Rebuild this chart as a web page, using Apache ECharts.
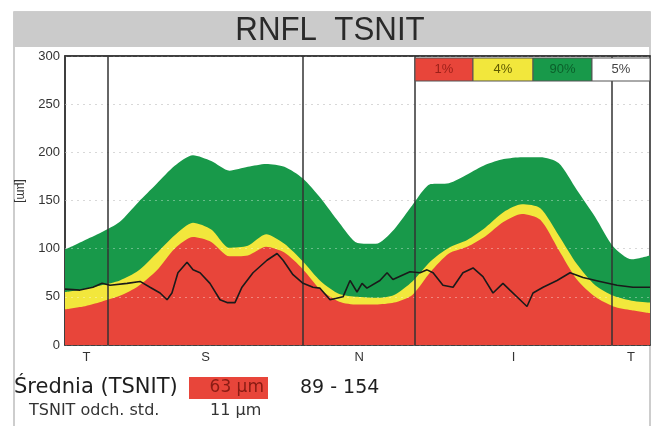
<!DOCTYPE html>
<html>
<head>
<meta charset="utf-8">
<script src="https://cdn.jsdelivr.net/npm/echarts@6/dist/echarts.min.js"></script>
<style>
html,body{margin:0;padding:0;background:#fff;}
#c{width:658px;height:426px;}
</style>
</head>
<body>
<div id="c"></div>
<script>
// ---- data ----
const titleText = 'RNFL  TSNIT';
const yTicks = [0, 50, 100, 150, 200, 250, 300];
const yGridInner = [50, 100, 150, 200, 250];
const yUnit = '[µm]';
// band sample positions (degrees around the disc, T-S-N-I-T)
const bandAngles = Array.from({length: 33}, (_, i) => i * 11.25);
// upper limit of the 95% normal band (top of green)
const band95 = [99,108,117,128,148,167,186,197,191,181,185,188,185,173,152,127,106,105,120,145,167,168,177,187,193,195,195,189,161,133,102,89,93];
// 5% limit (top of yellow)
const band5 = [55,58,62,67,77,95,114,127,120,101,103,115,105,87,66,53,50,49,52,66,87,101,109,122,138,146,142,114,84,62,51,46,44];
// 1% limit (top of red)
const band1 = [37,40,45,51,61,77,100,112,107,92,93,102,96,79,57,45,42,42,44,52,76,95,102,113,128,136,130,99,68,50,40,36,33];
// measured RNFL thickness
const measAngles = [0,9.2,17.2,22.8,27.7,38.2,46.2,52.3,58.5,62.8,65.8,69.5,75.1,78.8,83.1,89.2,95.4,99.7,104.6,108.9,115.7,124.3,130.5,134.2,140.3,146.5,152.6,156.9,163.1,171.1,175.4,179.7,182.8,185.8,193.8,198.2,201.8,212.3,218.5,222.8,226.5,232.6,238.8,244.9,251.1,257.2,263.4,269.5,273.8,280.0,284.3,288.0,294.2,302.8,310.8,318.8,329.2,339.7,349.5,360];
const measValues = [58,57,60,64,62,64,66,60,54,47,54,75,86,78,75,64,47,44,44,60,75,88,95,88,73,64,60,59,47,50,67,55,64,59,67,75,68,76,75,78,75,62,60,75,80,71,54,64,57,47,40,54,60,67,75,70,66,62,60,60];
// sector boundaries and labels
const sectorBounds = [26.5, 146.5, 215.4, 336.6];
const sectorCenters = [13.2, 86.5, 181, 276, 348.3];
const sectorLabels = ['T', 'S', 'N', 'I', 'T'];
// legend
const legendLabels = ['1%', '4%', '90%', '5%'];
// summary
const meanLabel = 'Średnia (TSNIT)';
const meanValue = '63 µm';
const normalRange = '89 - 154';
const sdLabel = 'TSNIT odch. std.';
const sdValue = '11 µm';

const RED = '#e8453a', YELLOW = '#f2e73c', GREEN = '#18994a';
const NARROW = '"Liberation Sans Narrow", "Liberation Sans", Arial, sans-serif';

const pairs = (xs, ys) => xs.map((x, i) => [x, ys[i]]);

const chart = echarts.init(document.getElementById('c'), null, {renderer: 'canvas'});

const legendX = 415, legendY = 58, legendW = [58, 60, 59, 58], legendH = 23;
const legendFill = [RED, YELLOW, GREEN, '#ffffff'];
const legendTextColor = ['#9b1f18', '#5f5a00', '#0b5f2a', '#444'];
const legendGraphics = [];
let lx = legendX;
legendLabels.forEach((t, i) => {
  legendGraphics.push({
    type: 'rect', shape: {x: lx, y: legendY, width: legendW[i], height: legendH},
    style: {fill: legendFill[i], stroke: '#555', lineWidth: 1}, z: 100
  });
  legendGraphics.push({
    type: 'text', x: lx + legendW[i] / 2, y: legendY + legendH / 2,
    style: {text: t, fill: legendTextColor[i], font: '13px ' + NARROW, align: 'center', verticalAlign: 'middle'},
    z: 101
  });
  lx += legendW[i];
});

const option = {
  animation: false,
  backgroundColor: '#ffffff',
  grid: {left: 65, right: 8, top: 56, bottom: 81, show: true, borderColor: '#333', borderWidth: 1.5, backgroundColor: 'transparent'},
  xAxis: [{
    type: 'value', min: 0, max: 360,
    axisLine: {show: true, lineStyle: {color: '#333', width: 1.5}},
    axisTick: {show: false},
    splitLine: {show: false},
    axisLabel: {
      customValues: sectorCenters,
      formatter: (v) => {
        let best = 0;
        sectorCenters.forEach((c, i) => { if (Math.abs(c - v) < Math.abs(sectorCenters[best] - v)) best = i; });
        return sectorLabels[best];
      },
      color: '#333', fontSize: 13, margin: 6, fontFamily: NARROW
    }
  }, {
    type: 'value', min: 0, max: 360, position: 'top',
    axisLine: {show: true, onZero: false, lineStyle: {color: '#333', width: 1.5}},
    axisTick: {show: false}, axisLabel: {show: false}, splitLine: {show: false}
  }],
  yAxis: {
    type: 'value', min: 0, max: 300, interval: 50,
    axisLine: {show: true, lineStyle: {color: '#333', width: 1.5}},
    axisTick: {show: false},
    axisLabel: {color: '#333', fontSize: 13, margin: 5, fontFamily: NARROW},
    splitLine: {show: true, lineStyle: {color: '#c4c4c4', type: [2, 4], width: 1}}
  },
  series: [
    {type: 'line', name: '95%', data: pairs(bandAngles, band95), showSymbol: false, smooth: 0.25,
     lineStyle: {width: 0}, areaStyle: {color: GREEN, opacity: 1}, z: 2},
    {type: 'line', name: '5%', data: pairs(bandAngles, band5), showSymbol: false, smooth: 0.25,
     lineStyle: {width: 0}, areaStyle: {color: YELLOW, opacity: 1}, z: 3},
    {type: 'line', name: '1%', data: pairs(bandAngles, band1), showSymbol: false, smooth: 0.25,
     lineStyle: {width: 0}, areaStyle: {color: RED, opacity: 1}, z: 4,
     markLine: {
       silent: true, symbol: ['none', 'none'], label: {show: false},
       lineStyle: {color: 'rgba(255,255,255,0.35)', width: 1, type: [2, 4]},
       data: yGridInner.map(v => ({yAxis: v}))
     }},
    {type: 'line', name: 'TSNIT', data: pairs(measAngles, measValues), showSymbol: false,
     lineStyle: {color: '#1a1a1a', width: 1.6}, z: 6,
     markLine: {
       silent: true, symbol: ['none', 'none'], label: {show: false},
       lineStyle: {color: '#333', width: 1.5, type: 'solid'},
       data: sectorBounds.map(v => ({xAxis: v}))
     }}
  ],
  graphic: [
    {type: 'rect', shape: {x: 14, y: 12, width: 636, height: 420}, style: {fill: 'none', stroke: '#bdbdbd', lineWidth: 1.5}, z: -10, silent: true},
    {type: 'rect', shape: {x: 14, y: 12, width: 636, height: 35}, style: {fill: '#cbcbcb'}, z: -9, silent: true},
    {type: 'text', x: 330, y: 31, scaleX: 0.92, style: {text: titleText, fill: '#2a2a2a', font: '34px ' + NARROW, align: 'center', verticalAlign: 'middle'}},
    {type: 'text', x: 20, y: 191, rotation: -Math.PI / 2, style: {text: yUnit, fill: '#333', font: '12px ' + NARROW, align: 'center', verticalAlign: 'middle'}},
    ...legendGraphics,
    {type: 'text', x: 14, y: 388, style: {text: meanLabel, fill: '#1e1e1e', font: '21px "DejaVu Sans", sans-serif', verticalAlign: 'middle'}},
    {type: 'rect', shape: {x: 189, y: 377, width: 79, height: 22}, style: {fill: RED}},
    {type: 'text', x: 264, y: 388, style: {text: meanValue, fill: '#8a1c14', font: '17px "DejaVu Sans", sans-serif', align: 'right', verticalAlign: 'middle'}},
    {type: 'text', x: 300, y: 388, style: {text: normalRange, fill: '#1e1e1e', font: '19px "DejaVu Sans", sans-serif', verticalAlign: 'middle'}},
    {type: 'text', x: 29, y: 411, style: {text: sdLabel, fill: '#333', font: '16px "DejaVu Sans", sans-serif', verticalAlign: 'middle'}},
    {type: 'text', x: 210, y: 411, style: {text: sdValue, fill: '#333', font: '16px "DejaVu Sans", sans-serif', verticalAlign: 'middle'}}
  ]
};
chart.setOption(option);
</script>
</body>
</html>
